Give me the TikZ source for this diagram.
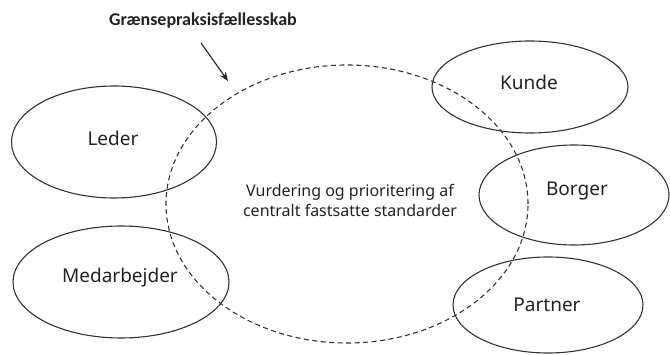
\documentclass[tikz,border=0pt]{standalone}
\usepackage{fontspec}
\setmainfont{Noto Sans}
\newfontfamily\headfont{Carlito}
\usetikzlibrary{shapes.geometric,arrows.meta}
\definecolor{ink}{HTML}{222222}
\definecolor{rim}{HTML}{333333}
\tikzset{
  actor/.style={draw=rim, line width=1.1pt, ellipse, inner sep=0pt},
  practice/.style={draw=rim, line width=1.1pt, ellipse, inner sep=0pt,
    dash pattern=on 5pt off 3.5pt},
  lbl/.style={text=ink, font=\fontsize{19}{22}\selectfont, inner sep=0pt},
  midtext/.style={text=ink, font=\fontsize{16}{20}\selectfont, align=center, inner sep=0pt},
  heading/.style={text=ink, font=\headfont\bfseries\fontsize{18}{20}\selectfont, inner sep=0pt},
  pointer/.style={draw=ink, line width=1.1pt, -{Stealth[length=9pt,width=7pt]}}
}
\begin{document}
\begin{tikzpicture}[x=1pt,y=-1pt]
  \useasboundingbox (0,0) rectangle (670,355);

  % the shared practice community
  \node[practice, minimum width=362, minimum height=278] (praksis) at (347,204) {};
  \node[midtext] (opgave) at (350,200) {Vurdering og prioritering af\\centralt fastsatte standarder};

  % actors around it
  \node[actor, minimum width=205, minimum height=112] (leder) at (114,142) {};
  \node[lbl] (lederT) at (113,138) {Leder};

  \node[actor, minimum width=216, minimum height=112] (medarb) at (121,282) {};
  \node[lbl] (medarbT) at (120,278) {Medarbejder};

  \node[actor, minimum width=196, minimum height=92] (kunde) at (530,87) {};
  \node[lbl] (kundeT) at (529,82) {Kunde};

  \node[actor, minimum width=190, minimum height=100] (borger) at (574,195) {};
  \node[lbl] (borgerT) at (577,191) {Borger};

  \node[actor, minimum width=190, minimum height=96] (partner) at (548,305) {};
  \node[lbl] (partnerT) at (547,305) {Partner};

  % heading and its pointer
  \node[heading] (titel) at (203,21) {Grænsepraksisfællesskab};
  \coordinate (pil) at (201,43);
  \coordinate (mal) at (228,81);
  \draw[pointer] (pil) -- (mal);
\end{tikzpicture}
\end{document}
